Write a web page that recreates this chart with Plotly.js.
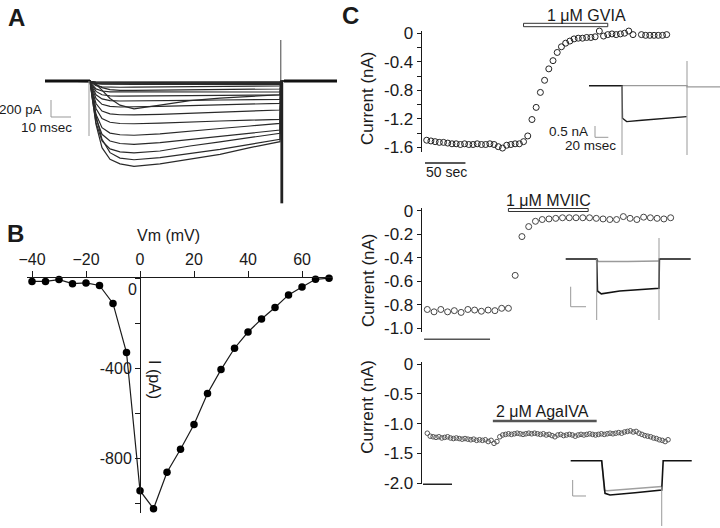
<!DOCTYPE html>
<html><head><meta charset="utf-8">
<script src="https://cdn.plot.ly/plotly-3.0.1.min.js"></script>
<style>html,body{margin:0;padding:0;background:#fff}#plot{width:720px;height:528px}</style>
</head><body><div id="plot"></div>
<script>
// ---------- Panel A: current traces (time ms, current pA) ----------
const tA = [-22.5, 0, 1, 3, 6, 10, 15, 22, 35, 50, 65, 80, 95, 95.5, 123.5];
const tracesA = {
  "-40": [0,0,-8,-14,-15,-15,-15,-15,-16,-15,-15,-15,-15,0,0],
  "-30": [0,0,-8,-12,-12,-12,-12,-12,-12,-12,-11,-10,-10,0,0],
  "-25": [0,0,-12,-22,-25,-25,-25,-25,-24,-24,-23,-22,-22,0,0],
  "-15": [0,0,-15,-28,-33,-33,-33,-32,-31,-30,-30,-29,-28,0,0],
  "60":  [0,0,-15,-32,-38,-40,-40,-40,-40,-40,-40,-40,-40,0,0],
  "55":  [0,0,-25,-55,-70,-75,-75,-74,-72,-70,-66,-63,-60,0,0],
  "-10": [0,0,-15,-45,-80,-104,-113,-112,-108,-104,-100,-98,-96,0,0],
  "50":  [0,0,-40,-95,-120,-130,-131,-131,-131,-131,-132,-132,-132,0,0],
  "45":  [0,0,-50,-125,-165,-178,-182,-182,-180,-176,-172,-170,-168,0,0],
  "40":  [0,0,-65,-165,-215,-235,-240,-240,-236,-232,-228,-224,-220,0,0],
  "-5":  [0,0,-10,-40,-110,-210,-290,-335,-290,-235,-205,-185,-165,0,0],
  "35":  [0,0,-80,-210,-280,-305,-312,-312,-305,-295,-285,-275,-268,0,0],
  "30":  [0,0,-100,-270,-360,-395,-405,-407,-400,-385,-370,-360,-348,0,0],
  "25":  [0,0,-120,-330,-450,-495,-510,-513,-505,-490,-480,-470,-460,0,0],
  "20":  [0,0,-150,-400,-560,-625,-645,-651,-635,-600,-570,-540,-508,0,0],
  "15":  [0,0,-170,-450,-640,-720,-750,-761,-740,-700,-660,-620,-588,0,0],
  "10":  [0,0,-190,-500,-720,-815,-850,-863,-840,-780,-730,-680,-628,0,0],
  "0":   [0,0,-130,-420,-700,-860,-925,-945,-920,-870,-820,-760,-700,0,0],
  "5":   [0,0,-180,-520,-800,-940,-995,-1025,-995,-940,-880,-800,-728,0,0]
};
const baseA_t = [-22.5, 0, null, 97, 123.5];
const baseA_i = [0, 0, null, 0, 0];

// ---------- Panel B: I-V relation ----------
const vm = [-40,-35,-30,-25,-20,-15,-10,-5,0,5,10,15,20,25,30,35,40,45,50,55,60,65,70];
const ipA = [-15,-15,-7,-25,-22,-33,-113,-331,-945,-1025,-863,-761,-651,-513,-407,-312,-240,-182,-131,-75,-40,-6,-1];
const bXticks = [-40,-20,0,20,40,60];
const bYticks = [-1000,-800,-600,-400,-200,0];
const bYtext  = ['','-800','','-400','',''];

// ---------- Panel C: time courses (time s, current nA) ----------
const tGVIA = [0,5,10,15,20,25,30,35,40,45,50,55,60,65,70,75,80,85,90,95,100,105,110,115,120,125,130,135,140,145,150,155,160,165,170,175,180,185,190,195,200,205,210,215,220,225,230,235,240,245,250,255,260,265,270,275,280,285];
const iGVIA = [-1.50,-1.51,-1.52,-1.53,-1.53,-1.54,-1.55,-1.55,-1.56,-1.55,-1.56,-1.56,-1.55,-1.56,-1.56,-1.55,-1.56,-1.59,-1.61,-1.57,-1.56,-1.55,-1.55,-1.52,-1.44,-1.21,-1.04,-0.83,-0.66,-0.50,-0.385,-0.27,-0.19,-0.14,-0.11,-0.08,-0.07,-0.07,-0.06,-0.06,-0.05,0.03,-0.04,-0.02,-0.01,-0.02,-0.01,0.00,0.03,-0.02,0.05,-0.02,-0.03,-0.03,-0.03,-0.03,-0.03,-0.02];

const tMVIIC = [0,5,10,15,20,25,30,35,40,45,50,55,60,65,70,75,80,85,90,95,100,105,110,115,120,125,130,135,140,145,150,155,160,165,170,175,180];
const iMVIIC = [-0.84,-0.86,-0.84,-0.86,-0.85,-0.865,-0.84,-0.845,-0.855,-0.845,-0.85,-0.83,-0.83,-0.55,-0.22,-0.135,-0.09,-0.075,-0.07,-0.065,-0.06,-0.06,-0.06,-0.06,-0.06,-0.065,-0.07,-0.075,-0.075,-0.05,-0.065,-0.075,-0.055,-0.06,-0.065,-0.07,-0.06];

const tAga = [0,5,10,15,20,25,30,35,40,45,50,55,60,65,70,75,80,85,90,95,100,105,110,115,120,125,130,135,140,145,150,155,160,165,170,175,180,185,190,195,200,205,210,215,220,225,230,235,240,245,250,255,260,265,270,275,280,285,290,295,300,305,310,315,320,325,330,335,340,345,350,355,360,365,370,375,380,385,390,395,400,405,410,415];
const iAga = [-1.16,-1.21,-1.22,-1.23,-1.22,-1.24,-1.23,-1.22,-1.24,-1.25,-1.24,-1.25,-1.26,-1.25,-1.26,-1.27,-1.26,-1.28,-1.27,-1.28,-1.27,-1.30,-1.28,-1.33,-1.30,-1.22,-1.19,-1.18,-1.17,-1.18,-1.17,-1.16,-1.17,-1.18,-1.17,-1.16,-1.17,-1.16,-1.17,-1.18,-1.17,-1.19,-1.18,-1.20,-1.22,-1.19,-1.18,-1.20,-1.19,-1.18,-1.19,-1.21,-1.19,-1.18,-1.19,-1.18,-1.17,-1.18,-1.19,-1.18,-1.17,-1.18,-1.17,-1.16,-1.17,-1.16,-1.15,-1.16,-1.14,-1.13,-1.12,-1.14,-1.13,-1.16,-1.18,-1.20,-1.21,-1.22,-1.24,-1.25,-1.27,-1.28,-1.30,-1.27];

const cTicksTop = [0,-0.2,-0.4,-0.6,-0.8,-1.0,-1.2,-1.4,-1.6];
const cTextTop  = ['0','','-0.4','','-0.8','','-1.2','','-1.6'];
const cTicksMid = [0,-0.2,-0.4,-0.6,-0.8,-1.0];
const cTextMid  = ['0','-0.2','-0.4','-0.6','-0.8','-1.0'];
const cTicksBot = [0,-0.5,-1.0,-1.5,-2.0];
const cTextBot  = ['0','-0.5','-1.0','-1.5','-2.0'];

// ---------- Insets: example traces (time ms, current nA) ----------
const in1CtrlT = [-49.5,0,0.7,7,30,60,97];
const in1CtrlI = [0,0,-1.44,-1.59,-1.53,-1.46,-1.37];
const in1DrugT = [0,97.5,97.5,147];
const in1DrugI = [0,0,-0.05,-0.05];
const in2CtrlT = [-40.4,0,1,6,30,81.2,81.7,122.5];
const in2CtrlI = [0,0,-0.8,-0.87,-0.8,-0.73,0,0];
const in2DrugT = [0,2,40,81.2];
const in2DrugI = [0,-0.06,-0.06,-0.05];
const in3CtrlT = [-46.5,0,5,12.4,50,90,92.2,135];
const in3CtrlI = [0,0,-1.02,-1.07,-1.0,-0.92,0,0];
const in3DrugT = [0,4,8,50,90];
const in3DrugI = [0,-0.92,-0.94,-0.88,-0.81];

// ---------- layout helpers ----------
const W = 720, H = 528;
const dx = (a,b) => [a/W, b/W];
const dy = (top,bot) => [1-bot/H, 1-top/H];
const px = x => x/W;
const py = y => 1-y/H;
const FONT = 'Liberation Sans, Arial, Helvetica, sans-serif';
const INK = '#1a1a1a';

const data = [];
// Panel A
Object.keys(tracesA).forEach(k => {
  data.push({x: tA, y: tracesA[k], xaxis:'x', yaxis:'y', mode:'lines', type:'scatter',
    line:{color:'#2a2a2a', width:1.2}, hoverinfo:'skip', showlegend:false});
});
data.push({x: baseA_t, y: baseA_i, xaxis:'x', yaxis:'y', mode:'lines', line:{color:'#111', width:3}, showlegend:false, connectgaps:false});
// Panel B
data.push({x: vm, y: ipA, xaxis:'x2', yaxis:'y2', mode:'lines+markers', type:'scatter',
  line:{color:INK, width:1.2}, marker:{color:'#000', size:7.5}, cliponaxis:false, showlegend:false});
// Panel C
data.push({x: tGVIA, y: iGVIA, xaxis:'x3', yaxis:'y3', mode:'markers', cliponaxis:false,
  marker:{symbol:'circle-open', size:6, color:'#222', line:{width:1, color:'#222'}}, showlegend:false});
data.push({x: tMVIIC, y: iMVIIC, xaxis:'x4', yaxis:'y4', mode:'markers', cliponaxis:false,
  marker:{symbol:'circle-open', size:6, color:'#444', line:{width:1, color:'#444'}}, showlegend:false});
data.push({x: tAga, y: iAga, xaxis:'x5', yaxis:'y5', mode:'markers', cliponaxis:false,
  marker:{symbol:'circle-open', size:4.6, color:'#555', line:{width:1, color:'#555'}}, showlegend:false});
// Insets
data.push({x: in1DrugT, y: in1DrugI, xaxis:'x6', yaxis:'y6', mode:'lines', line:{color:'#9a9a9a', width:1.3}, showlegend:false});
data.push({x: in1CtrlT, y: in1CtrlI, xaxis:'x6', yaxis:'y6', mode:'lines', line:{color:'#1a1a1a', width:1.4}, showlegend:false});
data.push({x: in2DrugT, y: in2DrugI, xaxis:'x7', yaxis:'y7', mode:'lines', line:{color:'#9a9a9a', width:1.5}, showlegend:false});
data.push({x: in2CtrlT, y: in2CtrlI, xaxis:'x7', yaxis:'y7', mode:'lines', line:{color:'#111', width:1.6}, showlegend:false});
data.push({x: in3DrugT, y: in3DrugI, xaxis:'x8', yaxis:'y8', mode:'lines', line:{color:'#a0a0a0', width:1.5}, showlegend:false});
data.push({x: in3CtrlT, y: in3CtrlI, xaxis:'x8', yaxis:'y8', mode:'lines', line:{color:'#111', width:1.6}, showlegend:false});

const hidden = (dom, rng, anchor) => ({domain: dom, range: rng, visible:false, fixedrange:true, anchor: anchor});
const cY = (dom, rng, tv, tt, anchor) => ({domain: dom, range: rng, anchor: anchor, showgrid:false, zeroline:false,
  showline:true, linecolor:INK, linewidth:1, ticks:'outside', ticklen:4, tickcolor:INK, tickwidth:1,
  tickvals: tv, ticktext: tt, tickfont:{family:FONT, size:17, color:INK}});

const layout = {
  width: W, height: H, margin:{l:0,r:0,t:0,b:0}, paper_bgcolor:'#fff', plot_bgcolor:'rgba(0,0,0,0)',
  showlegend:false, font:{family:FONT, color:INK},
  xaxis:  hidden(dx(40,340), [-25,125], 'y'),
  yaxis:  hidden(dy(35,210), [-1548,552], 'x'),
  xaxis2: {domain: dx(27,332), range:[-41.85,71.1], anchor:'y2', side:'top', showgrid:false, zeroline:false,
           showline:true, linecolor:INK, linewidth:1, ticks:'outside', ticklen:6, tickcolor:INK,
           tickvals:bXticks, tickfont:{family:FONT, size:16, color:INK}},
  yaxis2: {domain: dy(278,513), range:[-1044,0], anchor:'free', position: px(140), showgrid:false, zeroline:false,
           showline:true, linecolor:INK, linewidth:1, ticks:'outside', ticklen:5, tickcolor:INK,
           tickvals:bYticks, ticktext:bYtext, tickfont:{family:FONT, size:16, color:INK}},
  xaxis3: hidden(dx(421.7,720), [-5.94,348.3], 'y3'),
  yaxis3: cY(dy(30.7,152), [-1.665,0.035], cTicksTop, cTextTop, 'x3'),
  xaxis4: hidden(dx(421.7,720), [-4.14,216.5], 'y4'),
  yaxis4: cY(dy(208,331.7), [-1.029,0.023], cTicksMid, cTextMid, 'x4'),
  xaxis5: hidden(dx(421.7,720), [-9.66,504.6], 'y5'),
  yaxis5: cY(dy(361.7,484.3), [-2.017,0.039], cTicksBot, cTextBot, 'x5'),
  xaxis6: hidden(dx(589,720), [-49.5,147], 'y6'),
  yaxis6: hidden(dy(61,155), [-3.066,1.093], 'x6'),
  xaxis7: hidden(dx(565,692), [-41.3,124.2], 'y7'),
  yaxis7: hidden(dy(238,320), [-1.525,0.525], 'x7'),
  xaxis8: hidden(dx(568,693), [-50.5,136.9], 'y8'),
  yaxis8: hidden(dy(455,527), [-2.072,0.178], 'x8'),
  shapes: [
    // Panel A
    {type:'line', xref:'x', yref:'y', x0:-19.5, x1:-19.5, y0:-228, y1:-432, line:{color:'#999', width:1}},
    {type:'line', xref:'x', yref:'y', x0:-19.5, x1:-9.5, y0:-432, y1:-432, line:{color:'#999', width:1}},
    {type:'line', xref:'x', yref:'y', x0:-0.5, x1:-0.5, y0:0, y1:-660, line:{color:'#999', width:1}},
    {type:'rect', xref:'x', yref:'y', x0:95.2, x1:96.6, y0:0, y1:-1468, fillcolor:'#222', line:{width:0}},
    {type:'line', xref:'x', yref:'y', x0:95.4, x1:95.4, y0:0, y1:492, line:{color:'#444', width:1}},
    // Panel C top
    {type:'line', xref:'x3', yref:'paper', x0:-2, x1:46, y0:py(163), y1:py(163), line:{color:'#222', width:1.5}},
    {type:'rect', xref:'x3', yref:'paper', x0:115, x1:215, y0:py(26.7), y1:py(23.3), fillcolor:'#fff', line:{color:'#333', width:1}},
    // Panel C middle
    {type:'line', xref:'x4', yref:'paper', x0:-2.4, x1:46.4, y0:py(339.3), y1:py(339.3), line:{color:'#555', width:1.5}},
    {type:'rect', xref:'x4', yref:'paper', x0:60, x1:119, y0:py(211.5), y1:py(208.5), fillcolor:'#fff', line:{color:'#333', width:1}},
    // Panel C bottom
    {type:'line', xref:'x5', yref:'paper', x0:-7.4, x1:42.6, y0:py(484.3), y1:py(484.3), line:{color:'#222', width:1.5}},
    {type:'line', xref:'x5', yref:'paper', x0:113, x1:292, y0:py(421), y1:py(421), line:{color:'#555', width:2.5}},
    // Inset 1
    {type:'line', xref:'x6', yref:'y6', x0:0, x1:0, y0:0, y1:-3.066, line:{color:'#999', width:1}},
    {type:'line', xref:'x6', yref:'y6', x0:97.5, x1:97.5, y0:1.093, y1:-3.066, line:{color:'#999', width:1}},
    {type:'line', xref:'x6', yref:'y6', x0:-40.5, x1:-40.5, y0:-1.783, y1:-2.283, line:{color:'#999', width:1}},
    {type:'line', xref:'x6', yref:'y6', x0:-40.5, x1:-20.5, y0:-2.283, y1:-2.283, line:{color:'#999', width:1}},
    // Inset 2
    {type:'line', xref:'x7', yref:'y7', x0:0, x1:0, y0:0, y1:-1.525, line:{color:'#999', width:1}},
    {type:'line', xref:'x7', yref:'y7', x0:81.2, x1:81.2, y0:0.525, y1:-1.525, line:{color:'#999', width:1}},
    {type:'line', xref:'x7', yref:'y7', x0:-33.9, x1:-33.9, y0:-0.693, y1:-1.193, line:{color:'#999', width:1}},
    {type:'line', xref:'x7', yref:'y7', x0:-33.9, x1:-13.9, y0:-1.193, y1:-1.193, line:{color:'#999', width:1}},
    // Inset 3
    {type:'line', xref:'x8', yref:'y8', x0:90, x1:90, y0:-0.81, y1:-2.04, line:{color:'#999', width:1}},
    {type:'line', xref:'x8', yref:'y8', x0:-43.5, x1:-43.5, y0:-0.603, y1:-1.103, line:{color:'#999', width:1}},
    {type:'line', xref:'x8', yref:'y8', x0:-43.5, x1:-23.5, y0:-1.103, y1:-1.103, line:{color:'#999', width:1}}
  ],
  annotations: []
};

function ann(text, x, y, size, opts) {
  layout.annotations.push(Object.assign({text:text, xref:'paper', yref:'paper', x:px(x), y:py(y),
    xanchor:'center', yanchor:'middle', showarrow:false, font:{family:FONT, size:size, color:INK}}, opts||{}));
}
ann('<b>A</b>', 16, 17, 24);
ann('<b>B</b>', 15, 234, 24);
ann('<b>C</b>', 350, 16, 24);
ann('200 pA', 43.5, 109.5, 13.5, {xanchor:'right'});
ann('10 msec', 73.5, 127.5, 13.5, {xanchor:'right'});
ann('Vm (mV)', 168, 235, 16);
ann('0', 132.5, 289.5, 16);
ann('I (pA)', 155, 379, 16, {textangle:90});
ann('Current (nA)', 368, 98, 17, {textangle:-90});
ann('Current (nA)', 368, 280, 17, {textangle:-90});
ann('Current (nA)', 368, 406.7, 17, {textangle:-90});
ann('1 μM GVIA', 586.5, 16, 16);
ann('50 sec', 446, 172, 14);
ann('0.5 nA', 590, 131.7, 13.5, {xanchor:'right'});
ann('20 msec', 618, 145.7, 13.5, {xanchor:'right'});
ann('1 μM MVIIC', 548, 200, 16);
ann('2 μM AgaIVA', 542, 411, 16);

Plotly.newPlot('plot', data, layout, {staticPlot:true, displayModeBar:false});
</script></body></html>
